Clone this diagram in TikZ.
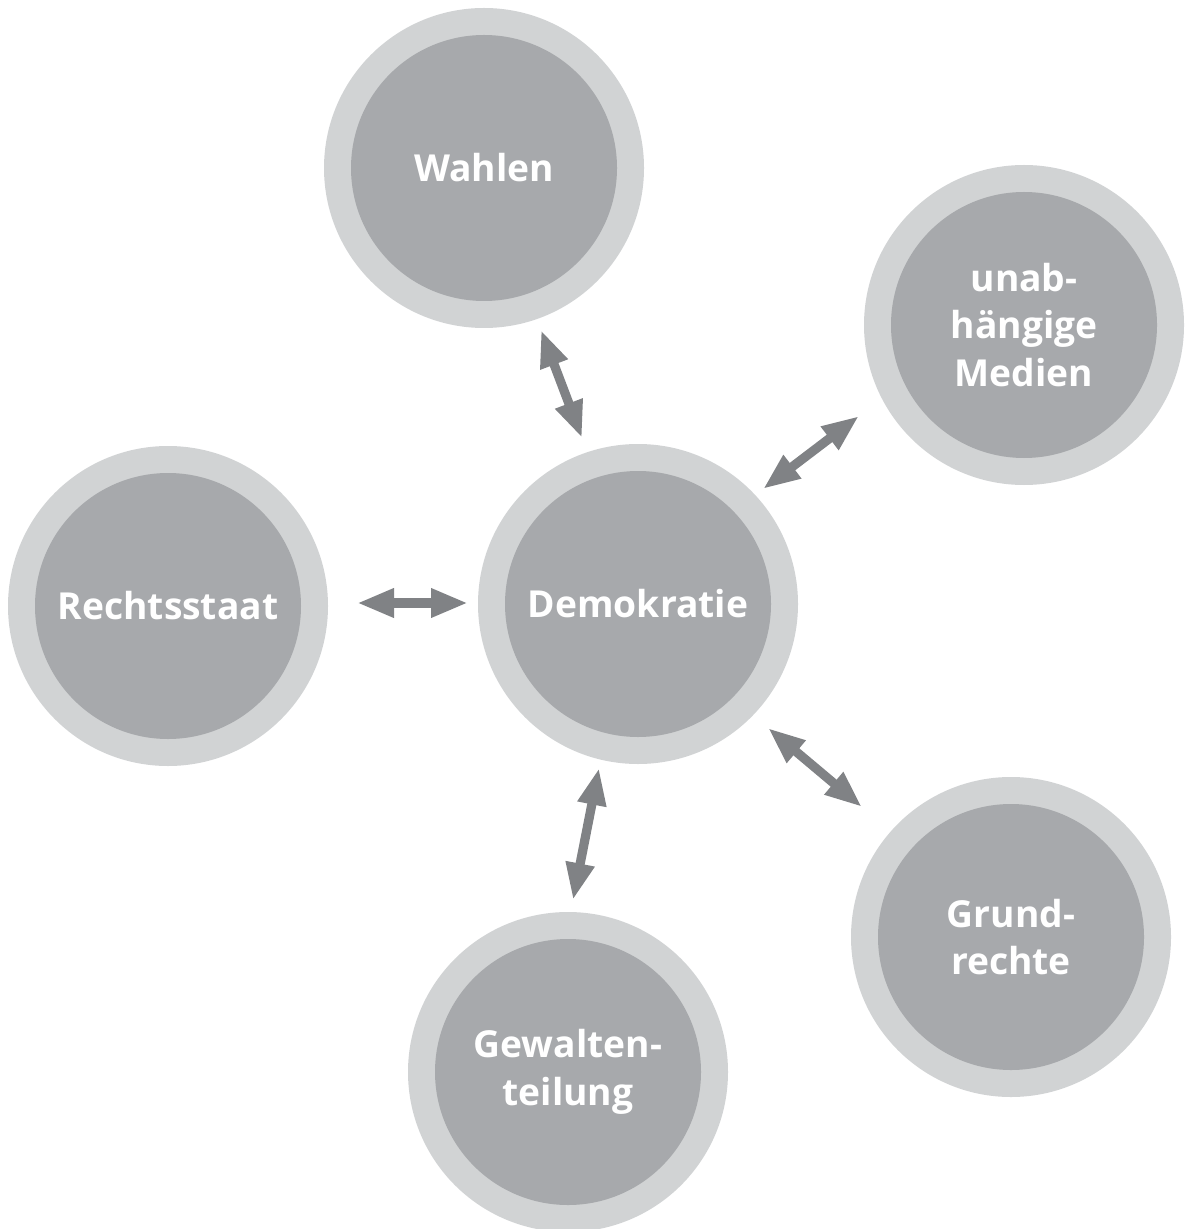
\documentclass[tikz,border=0pt]{standalone}
\usepackage{fontspec}
\setmainfont{Open Sans}
\usetikzlibrary{arrows.meta}
\definecolor{ringgray}{HTML}{D1D3D4}
\definecolor{coregray}{HTML}{A7A9AC}
\definecolor{arrowgray}{HTML}{808285}
\tikzset{
  ring/.style={circle, fill=ringgray, minimum size=160pt, inner sep=0pt},
  core/.style={circle, fill=coregray, minimum size=133pt, inner sep=0pt, text=white,
    font=\fontsize{18.6pt}{23.75pt}\selectfont\bfseries, align=center},
  link/.style={draw=arrowgray, line width=4.6pt,
    arrows={Triangle[length=18.5pt,width=13.5pt]-Triangle[length=18.5pt,width=13.5pt]}}
}
\begin{document}
\begin{tikzpicture}[x=0.5pt,y=-0.5pt]
\useasboundingbox (0,0) rectangle (1184,1229);
% outer rings
\node[ring] (wahlR) at (484,168) {};
\node[ring] (medR)  at (1024,325) {};
\node[ring] (demR)  at (638,604) {};
\node[ring] (rsR)   at (168,606) {};
\node[ring] (grR)   at (1011,937) {};
\node[ring] (gwR)   at (568,1072) {};
% inner cores with labels
\node[core] (wahl) at (wahlR.center) {Wahlen};
\node[core] (med)  at (medR.center) {unab-\\hängige\\Medien};
\node[core] (dem)  at (demR.center) {Demokratie};
\node[core] (rs)   at (rsR.center) {Rechtsstaat};
\node[core] (gr)   at (grR.center) {Grund-\\rechte};
\node[core] (gw)   at (gwR.center) {Gewalten-\\teilung};
% arrow end points
\coordinate (wahlA) at (541,330);
\coordinate (wahlB) at (582,438);
\coordinate (medA)  at (859,416);
\coordinate (medB)  at (763,489);
\coordinate (rsA)   at (357,603);
\coordinate (rsB)   at (468,603);
\coordinate (grA)   at (768,728);
\coordinate (grB)   at (862,807);
\coordinate (gwA)   at (599,768);
\coordinate (gwB)   at (573,900);
% connectors
\draw[link] (wahlA) -- (wahlB);
\draw[link] (medA) -- (medB);
\draw[link] (rsA) -- (rsB);
\draw[link] (grA) -- (grB);
\draw[link] (gwA) -- (gwB);
\end{tikzpicture}
\end{document}
